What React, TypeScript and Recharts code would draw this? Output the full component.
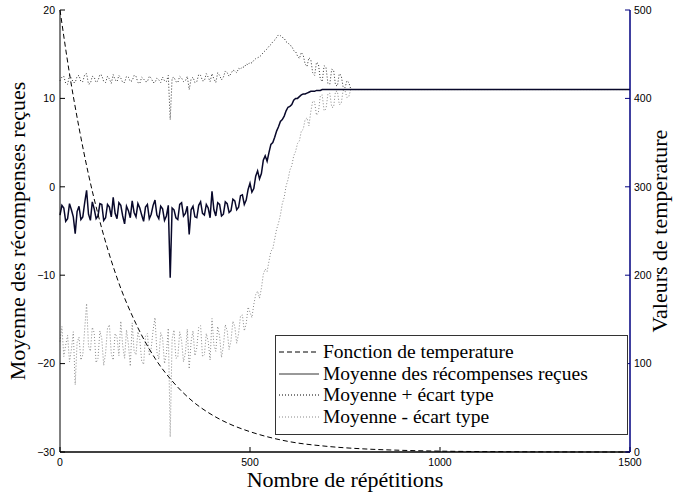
import { Line, LineChart, XAxis, YAxis } from 'recharts';

// iteration index for the reward curves (sampled every 5 repetitions, then the flat tail)
const STEPS = [
  0, 5, 10, 15, 20, 25, 30, 35, 40, 45,
  50, 55, 60, 65, 70, 75, 80, 85, 90, 95,
  100, 105, 110, 115, 120, 125, 130, 135, 140, 145,
  150, 155, 160, 165, 170, 175, 180, 185, 190, 195,
  200, 205, 210, 215, 220, 225, 230, 235, 240, 245,
  250, 255, 260, 265, 270, 275, 280, 285, 290, 295,
  300, 305, 310, 315, 320, 325, 330, 335, 340, 345,
  350, 355, 360, 365, 370, 375, 380, 385, 390, 395,
  400, 405, 410, 415, 420, 425, 430, 435, 440, 445,
  450, 455, 460, 465, 470, 475, 480, 485, 490, 495,
  500, 505, 510, 515, 520, 525, 530, 535, 540, 545,
  550, 555, 560, 565, 570, 575, 580, 585, 590, 595,
  600, 605, 610, 615, 620, 625, 630, 635, 640, 645,
  650, 655, 660, 665, 670, 675, 680, 685, 690, 695,
  700, 705, 710, 715, 720, 725, 730, 735, 740, 745, 750, 755, 760, 765, 770,
  800, 1000, 1500,
];

const MEAN = [
  -3.2, -2.1, -2.4, -3.9, -3.6, -1.9, -2.6, -3.4, -5.3, -2.8,
  -2.2, -3.7, -3.4, -1.8, -0.4, -3.1, -3.8, -1.7, -2.5, -3.6,
  -3.3, -1.9, -2.0, -3.8, -3.5, -2.0, -2.3, -3.4, -1.2, -3.0,
  -3.6, -1.8, -2.1, -3.3, -4.2, -2.2, -2.7, -3.5, -1.6, -2.9,
  -3.4, -1.9, -2.4, -3.2, -3.9, -2.3, -2.0, -3.6, -3.1, -2.1,
  -1.5, -3.2, -3.6, -2.2, -2.5, -3.8, -3.3, -2.1, -10.3, -2.4,
  -2.6, -3.5, -3.7, -2.0, -1.8, -3.3, -3.0, -2.2, -5.4, -2.6,
  -2.2, -3.4, -3.5, -2.1, -1.7, -3.0, -3.2, -2.0, -2.4, -3.5,
  -0.5, -2.6, -3.3, -1.8, -2.0, -3.3, -3.1, -1.7, -1.9, -2.9,
  -2.7, -1.4, -1.6, -2.6, -2.3, -1.0, -0.9, -2.0, -1.5, -0.3,
  0.4, -0.6, -0.2, 1.2, 1.8, 0.9, 1.5, 3.0, 3.5, 2.9,
  3.9, 4.8, 5.0, 5.6, 6.3, 6.8, 7.4, 7.6, 8.0, 8.6,
  9.0, 9.1, 9.3, 9.8, 10.0, 10.0, 10.2, 10.4, 10.5, 10.5,
  10.6, 10.7, 10.8, 10.8, 10.8, 10.9, 10.9, 10.9, 11.0, 11.0,
  11.0, 11.0, 11.0, 11.0, 11.0, 11.0, 11.0, 11.0, 11.0, 11.0, 11.0, 11.0, 11.0, 11.0, 11.0,
  11.0, 11.0, 11.0,
];

const UPPER = [
  12.0, 12.4, 12.5, 11.7, 11.6, 12.6, 12.3, 11.8, 11.8, 12.5,
  12.6, 11.9, 11.9, 12.7, 12.8, 11.6, 11.7, 12.5, 12.4, 11.8,
  12.0, 12.7, 12.6, 11.9, 11.8, 12.5, 12.2, 11.7, 12.7, 12.1,
  11.9, 12.6, 12.3, 11.8, 11.8, 12.5, 12.4, 11.9, 12.0, 12.6,
  12.5, 11.8, 11.7, 12.4, 12.2, 11.9, 11.9, 12.5, 12.3, 11.8,
  11.8, 12.3, 12.1, 11.8, 12.4, 12.0, 11.9, 12.6, 7.6, 12.3,
  12.4, 11.9, 11.8, 12.5, 12.3, 11.9, 12.0, 12.5, 11.0, 12.2,
  12.4, 11.8, 11.9, 12.7, 12.6, 12.0, 12.0, 12.8, 12.4, 11.9,
  12.8, 12.2, 11.8, 12.9, 12.6, 12.1, 12.4, 13.1, 12.9, 12.5,
  12.8, 13.2, 13.1, 12.9, 13.4, 13.3, 13.6, 13.5, 13.9, 13.8,
  14.1, 14.0, 14.3, 14.5, 14.6, 14.7, 14.9, 15.2, 15.4, 15.6,
  15.9, 16.1, 16.4, 16.6, 16.9, 17.2, 17.1, 16.9, 16.8, 16.4,
  16.3, 16.0, 15.9, 15.4, 15.3, 14.8, 14.5, 15.2, 14.9, 13.9,
  13.6, 14.6, 14.4, 12.9, 12.6, 14.1, 13.9, 12.2, 11.9, 13.7,
  13.5, 11.7, 11.6, 13.3, 13.2, 11.5, 11.4, 12.8, 12.6, 11.3, 11.2, 12.0, 11.8, 11.1, 11.0,
  11.0, 11.0, 11.0,
];

const LOWER = [
  -17.5, -15.8, -19.2, -17.9, -16.8, -19.8, -18.4, -16.4, -22.4, -17.6,
  -17.0, -19.6, -19.0, -16.1, -13.2, -18.0, -18.6, -15.9, -16.5, -19.9,
  -19.4, -16.3, -17.2, -20.2, -18.8, -16.0, -15.6, -18.9, -19.6, -16.6,
  -17.0, -19.1, -15.2, -18.0, -19.4, -16.2, -17.8, -20.3, -15.4, -18.6,
  -19.0, -16.4, -17.3, -19.7, -20.1, -16.9, -16.6, -19.1, -18.3, -16.2,
  -14.8, -18.7, -19.5, -16.5, -17.1, -20.0, -18.9, -16.0, -28.3, -17.2,
  -16.2, -19.4, -19.3, -16.4, -17.4, -19.8, -18.8, -16.1, -20.6, -17.5,
  -16.3, -19.1, -18.2, -15.9, -15.7, -19.2, -19.0, -16.6, -17.5, -19.6,
  -14.9, -17.9, -18.6, -15.8, -16.9, -19.3, -18.0, -15.6, -16.3, -18.4,
  -17.4, -15.2, -15.8, -17.7, -16.6, -14.6, -14.5, -16.3, -15.5, -13.6,
  -14.2, -14.8, -13.3, -12.2, -11.8, -12.6, -11.5, -9.9, -9.3, -9.6,
  -8.4, -7.3, -7.0, -5.9, -4.8, -4.1, -3.2, -1.9, -1.2, 0.1,
  0.8, 1.9, 2.4, 3.5, 4.0, 4.9, 5.2, 6.3, 6.5, 7.6,
  7.8, 6.9, 8.5, 9.7, 9.6, 8.1, 8.4, 10.3, 10.4, 8.6,
  8.8, 10.5, 10.6, 9.0, 9.0, 10.8, 10.8, 9.3, 9.4, 10.9, 10.9, 10.1, 10.2, 11.0, 11.0,
  11.0, 11.0, 11.0,
];

const TEMP_STEPS = [0, 25, 50, 75, 100, 150, 200, 250, 300, 350, 400, 450, 500, 600, 700, 800, 900, 1000, 1200, 1500];
const TEMP = [500, 428, 367, 314, 269, 197, 145, 106, 78, 57, 42, 31, 23, 12, 6.5, 3.5, 1.9, 1, 0.3, 0];

const X_TICKS = [0, 500, 1000, 1500];
const LEFT_TICKS = [-30, -20, -10, 0, 10, 20];
const RIGHT_TICKS = [0, 100, 200, 300, 400, 500];

const rewardRows = STEPS.map((step, i) => ({
  step,
  mean: MEAN[i],
  upper: UPPER[i],
  lower: LOWER[i],
}));
const tempRows = TEMP_STEPS.map((step, i) => ({ step, temp: TEMP[i] }));

const SANS = '"Liberation Sans", Arial, Helvetica, sans-serif';
const SERIF = '"Liberation Serif", "Times New Roman", serif';
const TICK = { fontSize: 10.5, fill: '#000', fontFamily: SANS };

const LEGEND = [
  { label: 'Fonction de temperature', color: '#000', dash: '5 3' },
  { label: 'Moyenne des récompenses reçues', color: '#333', dash: undefined },
  { label: 'Moyenne + écart type', color: '#000', dash: '1 2' },
  { label: 'Moyenne - écart type', color: '#888', dash: '1 2' },
];

const fmt = (v: number) => String(v).replace('-', '\u2212');

export default function App() {
  return (
    <div style={{ position: 'absolute', left: 0, top: 0, width: 678, height: 494, background: '#fff' }}>
      <LineChart width={678} height={494} data={rewardRows} margin={{ top: 10, right: 0, bottom: 0, left: 0 }}>
        <XAxis
          dataKey="step"
          type="number"
          domain={[0, 1500]}
          ticks={X_TICKS}
          interval={0}
          height={42}
          tickSize={-5}
          tickMargin={12}
          tick={TICK}
          axisLine={{ stroke: '#000', strokeWidth: 1.5 }}
          tickLine={{ stroke: '#000' }}
        />
        <XAxis
          xAxisId="top"
          orientation="top"
          dataKey="step"
          type="number"
          domain={[0, 1500]}
          ticks={X_TICKS}
          interval={0}
          height={0}
          tickSize={-5}
          tickFormatter={() => ''}
          axisLine={{ stroke: '#000' }}
          tickLine={{ stroke: '#000' }}
        />
        <YAxis
          yAxisId="left"
          domain={[-30, 20]}
          ticks={LEFT_TICKS}
          interval={0}
          width={60}
          tickSize={-5}
          tickMargin={10}
          tick={TICK}
          tickFormatter={fmt}
          axisLine={{ stroke: '#000' }}
          tickLine={{ stroke: '#000' }}
        />
        <YAxis
          yAxisId="right"
          orientation="right"
          domain={[0, 500]}
          ticks={RIGHT_TICKS}
          interval={0}
          width={48}
          tickSize={-5}
          tickMargin={9}
          tick={TICK}
          axisLine={{ stroke: '#000080', strokeWidth: 1.5 }}
          tickLine={{ stroke: '#000080' }}
        />
        <Line yAxisId="left" dataKey="lower" stroke="#888" strokeWidth={1} strokeDasharray="1 2" dot={false} isAnimationActive={false} />
        <Line yAxisId="left" dataKey="upper" stroke="#333" strokeWidth={1} strokeDasharray="1 2" dot={false} isAnimationActive={false} />
        <Line yAxisId="left" dataKey="mean" stroke="#08082a" strokeWidth={1.5} dot={false} isAnimationActive={false} />
        <Line
          yAxisId="right"
          data={tempRows}
          dataKey="temp"
          type="monotone"
          stroke="#000"
          strokeWidth={1}
          strokeDasharray="5 3"
          dot={false}
          isAnimationActive={false}
        />
      </LineChart>

      <div style={{ position: 'absolute', left: 145, top: 468, width: 400, textAlign: 'center', fontFamily: SERIF, fontSize: 22, lineHeight: '24px' }}>
        Nombre de répétitions
      </div>
      <div
        style={{
          position: 'absolute', left: -182, top: 219, width: 400, height: 24, textAlign: 'center',
          fontFamily: SERIF, fontSize: 22, lineHeight: '24px', transform: 'rotate(-90deg)',
        }}
      >
        Moyenne des récompenses reçues
      </div>
      <div
        style={{
          position: 'absolute', left: 460, top: 219, width: 400, height: 24, textAlign: 'center',
          fontFamily: SERIF, fontSize: 22, lineHeight: '24px', transform: 'rotate(-90deg)',
        }}
      >
        Valeurs de temperature
      </div>

      <div
        style={{
          position: 'absolute', left: 275, top: 335, width: 351, height: 93, border: '1px solid #333',
          background: '#fff', paddingTop: 5, boxSizing: 'content-box',
        }}
      >
        {LEGEND.map((e) => (
          <div key={e.label} style={{ display: 'flex', alignItems: 'center', height: 21.7 }}>
            <svg width={44} height={10} style={{ marginLeft: 3 }}>
              <line x1={0} y1={5} x2={40} y2={5} stroke={e.color} strokeWidth={1} strokeDasharray={e.dash} />
            </svg>
            <span style={{ fontFamily: SERIF, fontSize: 19.5, lineHeight: '21.7px', whiteSpace: 'nowrap' }}>{e.label}</span>
          </div>
        ))}
      </div>
    </div>
  );
}
